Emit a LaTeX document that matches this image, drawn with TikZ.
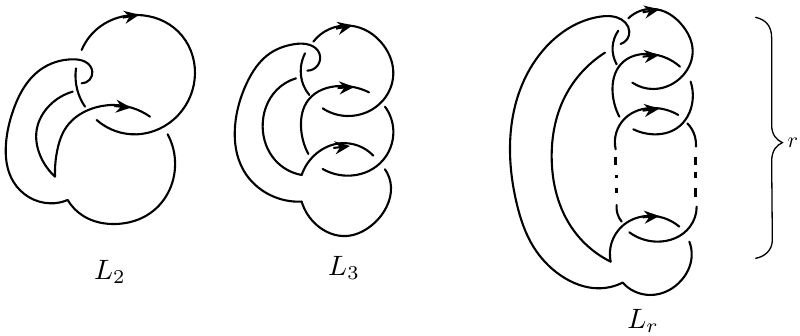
\documentclass[tikz,border=0pt]{standalone}
\usetikzlibrary{arrows.meta,hobby}
\tikzset{
  strand/.style={line width=2.1pt,line cap=round,line join=round,use Hobby shortcut},
  dash piece/.style={line width=3pt},
  bracket/.style={line width=1.3pt,line cap=round},
  tipmark/.style={-{Stealth[length=15pt,width=13pt,inset=5pt]},line width=2.1pt},
  zoomed/.style={x=0.3333pt,y=-0.3333pt},
  lab/.style={inner sep=0pt}
}
\begin{document}
\begin{tikzpicture}[x=1pt,y=-1pt]
\useasboundingbox[fill=white] (0,0) rectangle (800,336);
% L2
\begin{scope}[zoomed]
\draw[strand] (245,150)..(300,80)..(410,45)..(535,95)..(585,220)..(535,345)..(410,403)..(290,360);
\draw[strand] (245,250)..(277,215)..(255,185)..(220,178)..(120,210)..(40,330)..(18,430)..(40,545)..(150,610)..(203,600);
\draw[strand] (203,600)..(250,648)..(350,672)..(450,640)..(525,480)..(503,403);
\draw[strand] (228,205)..(232,270)..(255,320);
\draw[strand] (218,275)..(150,315)..(110,390)..(122,470)..(165,530);
\draw[strand] (165,530)..(172,450)..(200,380)..(270,328)..(340,315)..(450,350);
\draw[tipmark] (368,53)--(418,44);
\draw[tipmark] (343,318)--(393,323);
\end{scope}
% L3
\begin{scope}[shift={(220,10)},zoomed]
\draw[strand] (280,95)..(390,47)..(490,105)..(520,190)..(490,270)..(380,318)..(308,295);
\draw[strand] (262,182)..(298,130)..(270,105)..(220,103)..(150,130)..(80,220)..(45,350)..(70,480)..(150,555)..(245,575);
\draw[strand] (245,575)..(290,645)..(380,678)..(450,650)..(500,590)..(513,530)..(495,478);
\draw[strand] (255,130)..(243,170)..(250,225)..(268,255);
\draw[strand] (228,205)..(170,240)..(128,350)..(165,450)..(245,495);
\draw[strand] (245,495)..(290,430)..(360,400)..(460,437);
\draw[strand] (265,432)..(243,350)..(265,270)..(360,228)..(447,247);
\draw[strand] (495,290)..(520,360)..(480,460)..(380,497)..(308,477);
\draw[tipmark] (348,56)--(398,46);
\draw[tipmark] (353,234)--(403,231);
\draw[tipmark] (340,414)--(390,408);
\end{scope}
% Lr
\begin{scope}[shift={(500,0)},zoomed]
\draw[strand] (385,55)..(470,28)..(550,80)..(578,150)..(550,225)..(460,267)..(397,248);
\draw[strand] (362,132)..(388,95)..(350,52)..(300,50)..(130,150)..(60,270)..(30,440)..(50,610)..(100,740)..(180,825)..(300,865)..(368,848);
\draw[strand] (368,848)..(450,885)..(545,840)..(575,770)..(568,725);
\draw[strand] (355,92)..(338,140)..(350,193);
\draw[strand] (315,158)..(190,300)..(155,470)..(220,690)..(332,785);
\draw[strand] (332,785)..(365,680)..(440,648)..(538,680);
\draw[strand] (358,350)..(338,280)..(365,190)..(450,162)..(540,200);
\draw[strand] (572,245)..(578,300)..(530,385)..(460,403)..(400,388);
\draw[strand] (347,448)..(375,355)..(460,324)..(535,345);
\draw[strand] (562,370)..(585,410)..(588,440);
\draw[strand] (590,620)..(570,680)..(470,725)..(388,697);
\draw[strand] (350,615)..(352,640)..(365,665);
\draw[dash piece] (586,470)--(586,495) (588,515)--(588,535) (588,565)--(588,590);
\draw[dash piece] (347,470)--(347,495) (350,525)--(350,535) (350,565)--(350,580);
\draw[tipmark] (428,37)--(478,28);
\draw[tipmark] (428,170)--(478,165);
\draw[tipmark] (428,332)--(478,326);
\draw[tipmark] (428,652)--(478,648);
\end{scope}
% brace
\begin{scope}[shift={(720,0)},zoomed]
\draw[bracket] (107,52) .. controls (140,60) and (155,80) .. (155,115) -- (155,375) .. controls (155,405) and (170,420) .. (187,428) .. controls (170,436) and (155,450) .. (155,485) -- (157,720) .. controls (157,750) and (135,770) .. (107,775);
\end{scope}
\node[lab] (rlabel) at (793,143) {\scalebox{2.2}{$r$}};
\node[lab] (ltwo) at (110,272) {\scalebox{2.8}{$L_2$}};
\node[lab] (lthree) at (344,268) {\scalebox{2.8}{$L_3$}};
\node[lab] (lr) at (643,321) {\scalebox{2.8}{$L_r$}};
\end{tikzpicture}
\end{document}
